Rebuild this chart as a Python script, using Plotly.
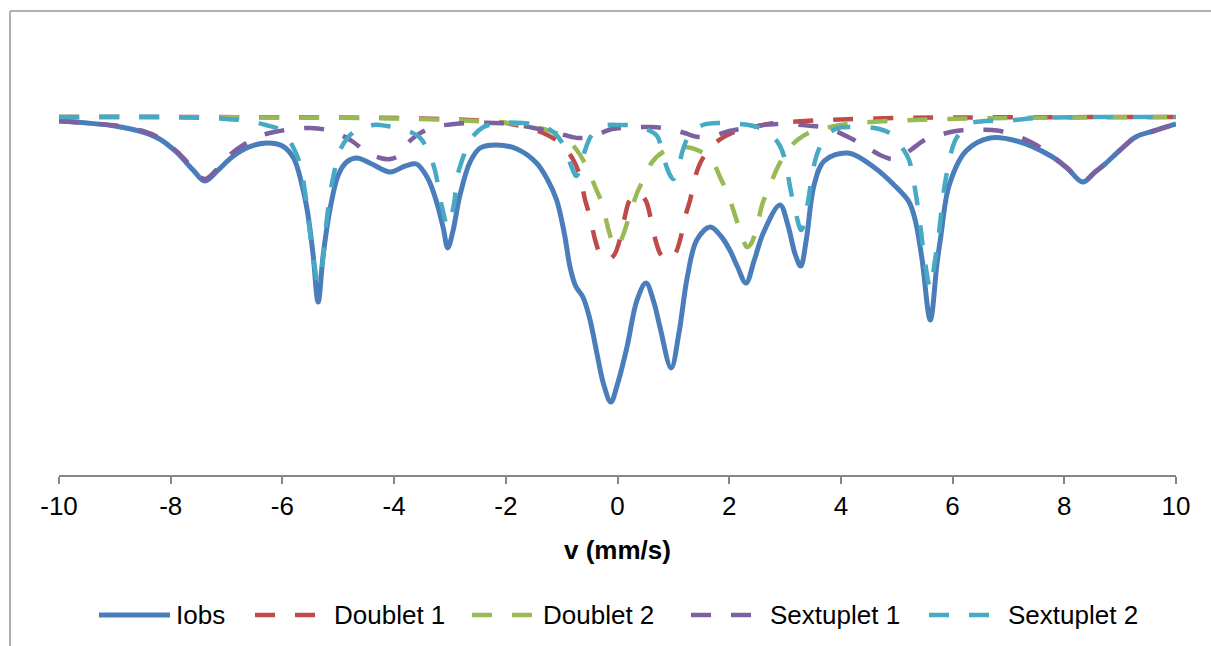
import plotly.graph_objects as go

# ---------------- data (relative intensity, arbitrary units) ----------------
iobs_v = [-10.0, -9.5, -9.0, -8.5, -8.2, -7.9, -7.6, -7.39, -7.15, -6.9, -6.6, -6.28, -6.0, -5.8,
          -5.65, -5.55, -5.45, -5.36, -5.27, -5.15, -5.0, -4.85, -4.67, -4.4, -4.07, -3.8, -3.6,
          -3.4, -3.25, -3.12, -3.04, -2.95, -2.82, -2.64, -2.46, -2.16, -1.8, -1.45, -1.25, -1.09,
          -0.95, -0.85, -0.75, -0.62, -0.5, -0.37, -0.25, -0.12, 0.0, 0.17, 0.35, 0.51, 0.65, 0.76,
          0.96, 1.1, 1.25, 1.42, 1.66, 1.85, 2.01, 2.15, 2.30, 2.45, 2.61, 2.91, 3.05, 3.18, 3.28,
          3.38, 3.52, 3.7, 4.13, 4.61, 4.97, 5.22, 5.33, 5.45, 5.6, 5.72, 5.79, 5.94, 6.24, 6.67,
          7.15, 7.76, 8.05, 8.33, 8.55, 8.73, 9.0, 9.28, 9.6, 10.0]
iobs_y = [996, 994, 991, 985, 978, 965, 947, 936, 947, 960, 970, 974, 971, 959,
          932, 905, 862, 815, 862, 907, 942, 955, 959, 953, 945, 951, 953,
          939, 917, 889, 869, 885, 922, 955, 969, 972, 968, 954, 937, 917,
          883, 850, 831, 820, 799, 764, 733, 715, 733, 770, 817, 834, 815, 790,
          749, 784, 840, 877, 890, 881, 867, 850, 834, 857, 884, 912, 892, 863, 851,
          877, 932, 956, 964, 949, 931, 915, 897, 859, 797, 853, 881, 932, 966, 979,
          976, 961, 949, 935, 945, 953, 967, 980, 986, 993]

d1_v = [-10, -5, -3.5, -2.5, -2.0, -1.6, -1.33, -1.03, -0.79, -0.67, -0.58, -0.49, -0.4, -0.3,
        -0.18, -0.06, 0.04, 0.13, 0.22, 0.36, 0.5, 0.59, 0.68, 0.78, 0.9, 1.02, 1.12, 1.21,
        1.30, 1.39, 1.51, 1.75, 2.05, 2.35, 2.7, 3.2, 4.0, 5.0, 6.0, 10]
d1_y = [1000, 999.5, 998.5, 996.5, 994, 989, 984, 974, 957, 940, 917, 900, 877, 862,
        857, 862, 877, 900, 917, 924, 917, 900, 877, 862, 857, 862, 877, 900,
        917, 940, 957, 974, 984, 989, 993, 995.5, 997.5, 999, 999.5, 1000]

d2_v = [-10, -6, -4, -3, -2.2, -1.8, -1.4, -1.1, -0.9, -0.73, -0.55, -0.4, -0.28, -0.16, -0.08,
        0.0, 0.1, 0.2, 0.35, 0.46, 0.62, 0.85, 1.16, 1.47, 1.7, 1.86, 1.97, 2.12, 2.22, 2.32,
        2.4, 2.48, 2.6, 2.72, 2.87, 3.05, 3.22, 3.42, 3.72, 4.12, 4.52, 5.3, 6.3, 8.3, 10]
d2_y = [1000, 999.5, 998.5, 997, 995, 993, 989, 984, 977, 967, 950, 930, 914, 887, 874,
        870, 882, 899, 924, 937, 955, 966, 970, 966, 955, 937, 924, 899, 882, 870,
        874, 887, 914, 930, 950, 967, 977, 984, 989, 993, 995, 997, 998.5, 999.5, 1000]

s1_v = [-10, -9.5, -9.0, -8.5, -8.2, -7.9, -7.6, -7.39, -7.15, -6.9, -6.7, -6.4, -6.1, -5.8, -5.5,
        -5.2, -4.95, -4.73, -4.5, -4.25, -4.07, -3.9, -3.7, -3.5, -3.3, -3.0, -2.6, -2.2, -1.9,
        -1.5, -1.2, -0.95, -0.7, -0.5, -0.3, -0.1, 0.2, 0.6, 0.95, 1.2, 1.45, 1.7, 2.0, 2.3, 2.7,
        3.0, 3.4, 3.75, 4.13, 4.43, 4.7, 4.9, 5.05, 5.25, 5.5, 5.7, 6.06, 6.4, 6.8, 7.15, 7.5,
        7.76, 8.05, 8.33, 8.55, 8.73, 9.0, 9.28, 9.6, 10]
s1_y = [996, 994, 991.5, 986, 979, 966, 949, 938, 949, 964, 972, 981, 985.5, 988, 989,
        987, 982, 975, 965, 959, 958, 962, 977, 985, 990, 992.5, 994, 994, 993,
        989, 986, 982, 979, 980, 984, 988, 989.5, 990, 988, 984, 980, 981, 986, 989, 992.5,
        993, 991.5, 989, 980, 971, 962, 958, 959, 967, 977, 981, 986, 987, 986.5, 981, 972,
        962, 949, 936, 945, 953, 967, 980, 986, 993]

s2_v = [-10, -8, -7.0, -6.6, -6.3, -6.0, -5.8, -5.68, -5.6, -5.5, -5.42, -5.36, -5.28, -5.2,
        -5.09, -4.94, -4.7, -4.37, -4.13, -3.8, -3.55, -3.4, -3.27, -3.15, -3.04, -2.93, -2.87,
        -2.75, -2.64, -2.4, -2.1, -1.7, -1.4, -1.15, -1.0, -0.9, -0.8, -0.74, -0.66, -0.58,
        -0.45, -0.26, 0.05, 0.35, 0.55, 0.71, 0.82, 0.94, 1.0, 1.08, 1.17, 1.3, 1.53, 1.84, 2.2,
        2.5, 2.75, 2.9, 3.0, 3.1, 3.2, 3.29, 3.4, 3.5, 3.6, 3.75, 3.95, 4.2, 4.6, 4.9, 5.1, 5.22,
        5.33, 5.42, 5.5, 5.6, 5.68, 5.75, 5.88, 6.06, 6.3, 6.6, 6.9, 7.5, 8.5, 10]
s2_y = [1000, 1000, 998, 996, 992, 986, 969, 952, 927, 882, 849, 834, 855, 900,
        940, 970, 986, 992, 991, 987, 980, 967, 947, 912, 891, 912, 940,
        962, 977, 990, 994, 994, 992, 985, 975, 962, 947, 941, 949, 967,
        983, 991, 992, 991, 987, 981, 960, 942, 938, 947, 967, 983, 992, 994, 993,
        990, 982, 972, 957, 927, 902, 887, 912, 947, 967, 982, 989, 990, 989, 983, 969, 957,
        927, 892, 857, 829, 855, 882, 939, 978, 993, 996, 996, 999, 1000, 1000]

series_names = ["Iobs", "Doublet 1", "Doublet 2", "Sextuplet 1", "Sextuplet 2"]
x_ticks = [-10, -8, -6, -4, -2, 0, 2, 4, 6, 8, 10]

# ---------------- styling ----------------
colors = ["#4A7EBB", "#BE4B48", "#98B954", "#7D60A0", "#46AAC5"]
widths = [5, 4.5, 4.5, 4.5, 4.5]
DASH = "20px,20px"
FONT = "Liberation Sans, Arial, sans-serif"

fig = go.Figure()
data = [(iobs_v, iobs_y), (d1_v, d1_y), (d2_v, d2_y), (s1_v, s1_y), (s2_v, s2_y)]
for i, (name, (xv, yv)) in enumerate(zip(series_names, data)):
    fig.add_trace(go.Scatter(
        x=xv, y=yv, name=name, mode="lines",
        line=dict(color=colors[i], width=widths[i], shape="spline", smoothing=1.0,
                  dash="solid" if i == 0 else DASH),
        showlegend=False, hoverinfo="skip"))

# figure fills the whole page (body margin removed by post_script below)
W, H = 1211, 646
ML, MR, MT, MB = 59, 35, 20, 171
PW, PH = W - ML - MR, H - MT - MB


def px_x(p):  # page pixel -> paper x
    return (p - ML) / PW


def px_y(p):  # page pixel -> paper y
    return (H - MB - p) / PH


shapes = []
# outer chart border (left and top edges visible)
shapes.append(dict(type="line", xref="paper", yref="paper", x0=px_x(10), x1=px_x(10),
                   y0=px_y(11), y1=px_y(650), line=dict(color="#969696", width=1.5)))
shapes.append(dict(type="line", xref="paper", yref="paper", x0=px_x(10), x1=px_x(1215),
                   y0=px_y(11), y1=px_y(11), line=dict(color="#969696", width=1.5)))

# manual legend
leg_y = px_y(615)
samples = [(99, 170), (255, 315), (472, 532), (691, 751), (929, 989)]
text_x = [174, 332, 541, 768, 1006]
annotations = []
for i, name in enumerate(series_names):
    a, b = samples[i]
    shapes.append(dict(type="line", xref="paper", yref="paper", x0=px_x(a), x1=px_x(b),
                       y0=leg_y, y1=leg_y,
                       line=dict(color=colors[i], width=widths[i],
                                 dash="solid" if i == 0 else DASH)))
    annotations.append(dict(text=name, xref="paper", yref="paper", x=px_x(text_x[i]),
                            y=leg_y, xanchor="left", yanchor="middle", showarrow=False,
                            font=dict(family=FONT, size=26, color="#000000")))

annotations.append(dict(text="<b>v (mm/s)</b>", xref="paper", yref="paper", x=px_x(617.5),
                        y=px_y(550), xanchor="center", yanchor="middle", showarrow=False,
                        font=dict(family=FONT, size=26, color="#000000")))

fig.update_layout(
    width=W, height=H,
    margin=dict(l=ML, r=MR, t=MT, b=MB, pad=0),
    paper_bgcolor="white", plot_bgcolor="white",
    showlegend=False,
    shapes=shapes, annotations=annotations,
    font=dict(family=FONT, color="#000000"),
    xaxis=dict(range=[-10, 10], tickvals=x_ticks, ticktext=[str(t) for t in x_ticks],
               showline=True, linecolor="#868686", linewidth=1.5,
               ticks="outside", ticklen=7, tickcolor="#868686", tickwidth=1.5,
               showgrid=False, zeroline=False,
               tickfont=dict(family=FONT, size=26, color="#000000")),
    yaxis=dict(range=[642, 1097], visible=False, showgrid=False, zeroline=False),
)

fig.write_html(
    "out.html",
    config={"displayModeBar": False},
    post_script=("document.body.style.margin='0';"
                 "document.documentElement.style.overflow='hidden';"
                 "document.body.style.overflow='hidden';"),
)
